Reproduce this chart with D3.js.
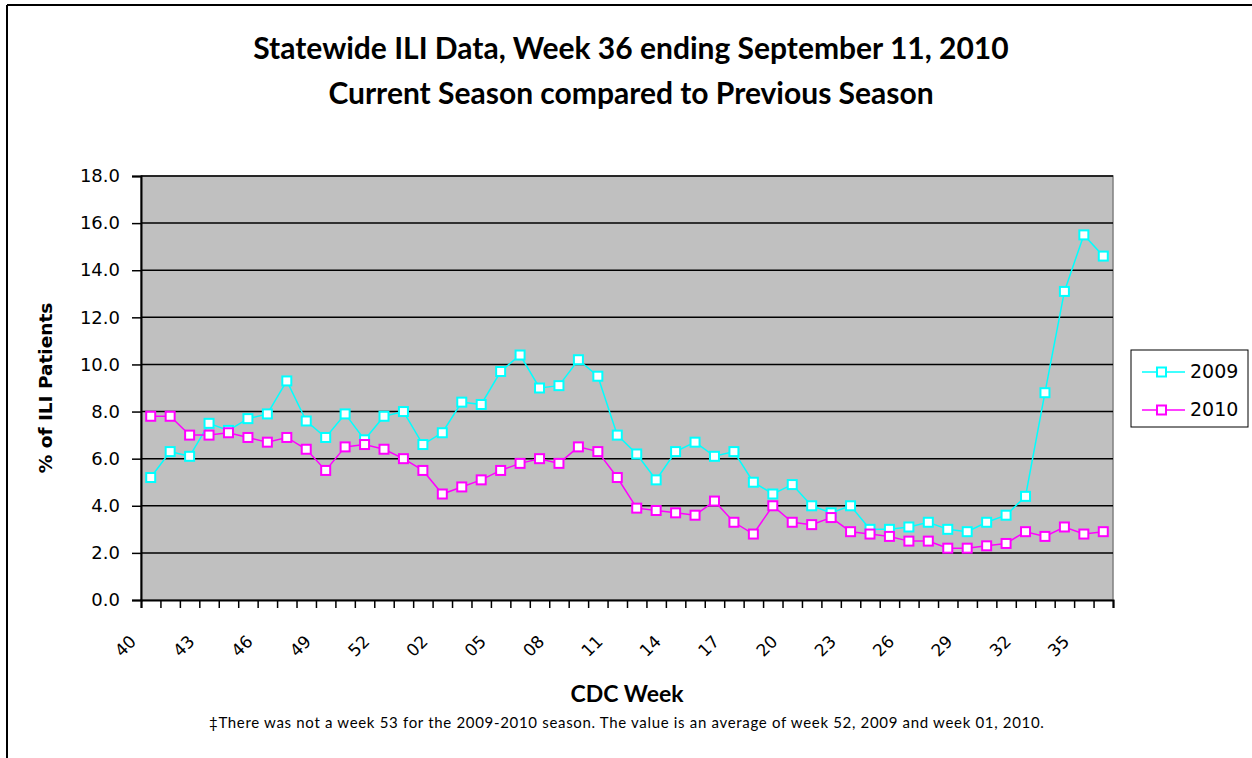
<!DOCTYPE html>
<html>
<head>
<meta charset="utf-8">
<script src="https://cdn.jsdelivr.net/npm/d3@7"></script>
<style>
  body { margin: 0; background: #fff; }
  svg { display: block; }
  .ticklab { font-family: "DejaVu Sans", sans-serif; font-size: 18px; fill: #000; }
  .title { font-family: Lato, "Open Sans", sans-serif; font-weight: bold; font-size: 30px; }
  .axtitle { font-family: Lato, sans-serif; font-weight: bold; font-size: 23px; }
</style>
</head>
<body>
<script>
// CDC weeks, 2009-2010 season layout (week 53 is an average, see footnote)
var weeks = ["40","41","42","43","44","45","46","47","48","49","50","51","52","53",
             "01","02","03","04","05","06","07","08","09","10","11","12","13","14",
             "15","16","17","18","19","20","21","22","23","24","25","26","27","28",
             "29","30","31","32","33","34","35","36"];

// % of ILI patients
var ili2009 = [5.2, 6.3, 6.1, 7.5, 7.2, 7.7, 7.9, 9.3, 7.6, 6.9,
               7.9, 6.8, 7.8, 8.0, 6.6, 7.1, 8.4, 8.3, 9.7, 10.4,
               9.0, 9.1, 10.2, 9.5, 7.0, 6.2, 5.1, 6.3, 6.7, 6.1,
               6.3, 5.0, 4.5, 4.9, 4.0, 3.7, 4.0, 3.0, 3.0, 3.1,
               3.3, 3.0, 2.9, 3.3, 3.6, 4.4, 8.8, 13.1, 15.5, 14.6];
var ili2010 = [7.8, 7.8, 7.0, 7.0, 7.1, 6.9, 6.7, 6.9, 6.4, 5.5,
               6.5, 6.6, 6.4, 6.0, 5.5, 4.5, 4.8, 5.1, 5.5, 5.8,
               6.0, 5.8, 6.5, 6.3, 5.2, 3.9, 3.8, 3.7, 3.6, 4.2,
               3.3, 2.8, 4.0, 3.3, 3.2, 3.5, 2.9, 2.8, 2.7, 2.5,
               2.5, 2.2, 2.2, 2.3, 2.4, 2.9, 2.7, 3.1, 2.8, 2.9];

var seriesNames = ["2009", "2010"];
var seriesColors = ["#00ffff", "#ff00ff"];
var yTicks = [0, 2, 4, 6, 8, 10, 12, 14, 16, 18];

var titleLines = ["Statewide ILI Data, Week 36 ending September 11, 2010",
                  "Current Season compared to Previous Season"];
var xTitle = "CDC Week";
var yTitle = "% of ILI Patients";
var footnote = "\u2021There was not a week 53 for the 2009-2010 season. The value is an average of week 52, 2009 and week 01, 2010.";

window.onload = function() {
  drawChart();
};

function drawChart() {
  var width = 1252;
  var height = 758;
  var left = 141, right = 1113, top = 176, bottom = 600;

  var svg = d3.select("body")
              .append("svg")
              .attr("width", width)
              .attr("height", height);

  // Chart frame (top and left edges visible)
  svg.append("line")
     .attr("x1", 7).attr("x2", width).attr("y1", 5).attr("y2", 5)
     .attr("stroke", "#000").attr("stroke-width", 2);
  svg.append("line")
     .attr("x1", 7).attr("x2", 7).attr("y1", 5).attr("y2", height)
     .attr("stroke", "#000").attr("stroke-width", 2);

  // Scales
  var x = d3.scaleBand()
            .domain(weeks)
            .range([left, right])
            .padding(0);
  var xEdge = d3.scaleLinear()
                .domain([0, weeks.length])
                .range([left, right]);
  var y = d3.scaleLinear()
            .domain([0, 18])
            .range([bottom, top]);

  // Plot area
  svg.append("rect")
     .attr("x", left).attr("y", top)
     .attr("width", right - left).attr("height", bottom - top)
     .attr("fill", "#c0c0c0")
     .attr("stroke", "#808080")
     .attr("stroke-width", 1.5);

  // Gridlines
  svg.selectAll(".grid")
     .data(yTicks.slice(1))
     .enter()
     .append("line")
     .attr("class", "grid")
     .attr("x1", left).attr("x2", right)
     .attr("y1", function(d) { return y(d); })
     .attr("y2", function(d) { return y(d); })
     .attr("stroke", "#000")
     .attr("stroke-width", 1.5);

  // Y axis
  var yAxis = d3.axisLeft(y)
                .tickValues(yTicks)
                .tickSize(9)
                .tickPadding(12)
                .tickFormat(d3.format(".1f"));
  var gy = svg.append("g")
              .attr("transform", "translate(" + left + ",0)")
              .call(yAxis);
  gy.select(".domain").attr("stroke", "#000").attr("stroke-width", 2);
  gy.selectAll(".tick line").attr("stroke", "#000").attr("stroke-width", 1.5);
  gy.selectAll(".tick text").attr("class", "ticklab").attr("fill", "#000");

  // X axis: tick marks between categories
  var xAxis = d3.axisBottom(xEdge)
                .tickValues(d3.range(weeks.length + 1))
                .tickSize(8)
                .tickFormat("");
  var gx = svg.append("g")
              .attr("transform", "translate(0," + bottom + ")")
              .call(xAxis);
  gx.select(".domain").attr("stroke", "#000").attr("stroke-width", 2);
  gx.selectAll(".tick line").attr("stroke", "#000").attr("stroke-width", 1.5);

  // X labels every third week, rotated
  svg.selectAll(".xlab")
     .data(weeks.filter(function(d, i) { return i % 3 == 0; }))
     .enter()
     .append("text")
     .attr("class", "ticklab")
     .style("font-size", "17px")
     .attr("text-anchor", "end")
     .attr("dominant-baseline", "middle")
     .attr("transform", function(d) {
       var cx = x(d) + x.bandwidth() / 2;
       return "translate(" + (cx - 17) + "," + (bottom + 39) + ") rotate(-45)";
     })
     .text(function(d) { return d; });

  // Lines and markers
  var series = [ili2009, ili2010];
  var line = d3.line()
               .x(function(d, i) { return x(weeks[i]) + x.bandwidth() / 2; })
               .y(function(d) { return y(d); });

  series.forEach(function(values, s) {
    svg.append("path")
       .datum(values)
       .attr("d", line)
       .attr("fill", "none")
       .attr("stroke", seriesColors[s])
       .attr("stroke-width", 1.5);
    svg.selectAll(".m" + s)
       .data(values)
       .enter()
       .append("rect")
       .attr("class", "m" + s)
       .attr("x", function(d, i) { return x(weeks[i]) + x.bandwidth() / 2 - 4.5; })
       .attr("y", function(d) { return y(d) - 4.5; })
       .attr("width", 9)
       .attr("height", 9)
       .attr("fill", "#fff")
       .attr("stroke", seriesColors[s])
       .attr("stroke-width", 2);
  });

  // Legend
  var legend = svg.append("g");
  legend.append("rect")
        .attr("x", 1131).attr("y", 350)
        .attr("width", 117).attr("height", 77)
        .attr("fill", "#fff")
        .attr("stroke", "#000")
        .attr("stroke-width", 1);
  seriesNames.forEach(function(name, s) {
    var ly = 372 + s * 38;
    legend.append("line")
          .attr("x1", 1142).attr("x2", 1185)
          .attr("y1", ly).attr("y2", ly)
          .attr("stroke", seriesColors[s])
          .attr("stroke-width", 1.5);
    legend.append("rect")
          .attr("x", 1157).attr("y", ly - 4.5)
          .attr("width", 9).attr("height", 9)
          .attr("fill", "#fff")
          .attr("stroke", seriesColors[s])
          .attr("stroke-width", 2);
    legend.append("text")
          .attr("x", 1190).attr("y", ly)
          .attr("dominant-baseline", "middle")
          .style("font-family", "DejaVu Sans, sans-serif")
          .style("font-size", "19px")
          .text(name);
  });

  // Titles
  svg.selectAll(".title")
     .data(titleLines)
     .enter()
     .append("text")
     .attr("class", "title")
     .attr("x", 631)
     .attr("y", function(d, i) { return 59 + i * 45; })
     .attr("text-anchor", "middle")
     .text(function(d) { return d; });

  svg.append("text")
     .attr("class", "axtitle")
     .attr("x", (left + right) / 2)
     .attr("y", 702)
     .attr("text-anchor", "middle")
     .text(xTitle);

  svg.append("text")
     .attr("transform", "translate(52," + ((top + bottom) / 2) + ") rotate(-90)")
     .attr("text-anchor", "middle")
     .style("font-family", "DejaVu Sans, sans-serif")
     .style("font-weight", "bold")
     .style("font-size", "18.5px")
     .text(yTitle);

  svg.append("text")
     .attr("x", 209)
     .attr("y", 728)
     .style("font-family", "Lato, sans-serif")
     .style("font-size", "15px")
     .style("letter-spacing", "0.68px")
     .text(footnote);
}
</script>
</body>
</html>
